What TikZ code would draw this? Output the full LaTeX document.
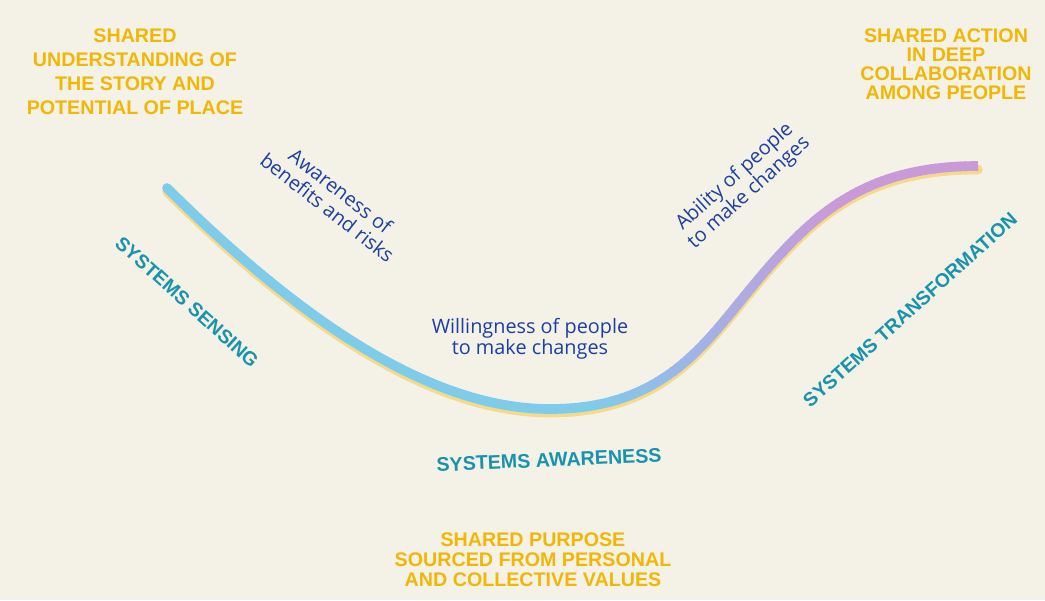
\documentclass[tikz,border=0pt]{standalone}
\usepackage{fontspec}
\setsansfont{Liberation Sans}
\newfontfamily\notefont{Open Sans}
\definecolor{paper}{HTML}{F4F1E6}
\definecolor{goldtext}{HTML}{F2B705}
\definecolor{tealtext}{HTML}{1893AD}
\definecolor{navytext}{HTML}{1D3FA3}
\definecolor{skyband}{HTML}{7FCBEA}
\definecolor{periband}{HTML}{A2B2E6}
\definecolor{orchidband}{HTML}{C99AD8}
\definecolor{sandband}{HTML}{F5DA8A}

\begin{document}
\begin{tikzpicture}[x=0.02cm,y=-0.02cm,
every node/.style={inner sep=0pt},
goal/.style={font=\sffamily\bfseries\fontsize{11.2}{13.7}\selectfont, text=goldtext, align=center},
stage/.style={font=\sffamily\bfseries\fontsize{11}{13.7}\selectfont, text=tealtext},
remark/.style={font=\notefont\fontsize{11.3}{12.2}\selectfont, text=navytext, align=center},
band/.style={line width=5.5pt, line cap=round},
curve/.style={insert path={(start) .. controls (300,320) and (430,409) .. (bottom)
  .. controls (660,409) and (702,348) .. (rise) .. controls (807,220) and (858,166) .. (end)}}]
% paper
\fill[paper] (0,0) rectangle (1045,600);
\useasboundingbox (0,0) rectangle (1045,600);

% where the curve starts, bottoms out, rises and ends
\coordinate (start) at (167,188);
\coordinate (bottom) at (550,409);
\coordinate (rise) at (747,293);
\coordinate (end) at (978,166);

% yellow shadow under the curve
\draw[band, sandband, transform canvas={yshift=-2pt}, curve];

% the curve itself: blue on the left ...
\begin{scope}
\clip (100,100) rectangle (561,450);
\draw[band, skyband, curve];
\end{scope}
% ... turning to violet on the way up
\foreach \x in {560,565,...,980}
{
\pgfmathtruncatemacro\shadeA{min(100,max(0,(\x-590)/1.1))}
\pgfmathtruncatemacro\shadeB{min(100,max(0,(\x-700)/1.3))}
\colorlet{stepA}{periband!\shadeA!skyband}
\colorlet{stepB}{orchidband!\shadeB!stepA}
\begin{scope}
\clip (\x,100) rectangle (\x+6,450);
\draw[band, stepB, line cap=butt, curve];
\end{scope}
}

% shared goals
\node[goal] (place) at (135,72) {SHARED\\UNDERSTANDING OF\\THE STORY AND\\POTENTIAL OF PLACE};
\node[goal, font=\sffamily\bfseries\fontsize{11.2}{10.8}\selectfont] (action) at (946,64) {SHARED ACTION\\IN DEEP\\COLLABORATION\\AMONG PEOPLE};
\node[goal, font=\sffamily\bfseries\fontsize{11.2}{11.4}\selectfont] (purpose) at (533,560) {SHARED PURPOSE\\SOURCED FROM PERSONAL\\AND COLLECTIVE VALUES};

% stages
\node[stage, rotate=-42] (sensing) at (187,302) {SYSTEMS SENSING};
\node[stage, font=\sffamily\bfseries\fontsize{11.2}{13.7}\selectfont, rotate=2.5] (awareness) at (549,460) {SYSTEMS AWARENESS};
\node[stage, rotate=42] (transformation) at (910,310) {SYSTEMS TRANSFORMATION};

% remarks along the curve
\node[remark, rotate=-38] (risks) at (334,199) {Awareness of\\benefits and risks};
\node[remark] (willing) at (530,339) {Willingness of people\\to make changes};
\node[remark, rotate=42] (ability) at (742,185) {Ability of people\\to make changes};
\end{tikzpicture}
\end{document}
